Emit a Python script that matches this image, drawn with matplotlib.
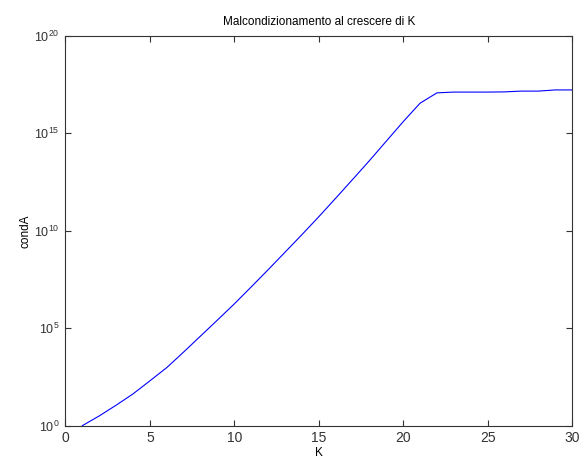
import numpy as np
import matplotlib.pyplot as plt
from matplotlib.ticker import FixedLocator, FuncFormatter, NullLocator

# valeurs (log10 du conditionnement)
K = np.arange(1, 31)
log_cond = [0.0, 0.5, 1.05, 1.63, 2.3, 2.98, 3.78, 4.6, 5.42, 6.25,
            7.12, 8.0, 8.9, 9.8, 10.72, 11.67, 12.63, 13.6, 14.6, 15.6,
            16.55, 17.08, 17.12, 17.12, 17.12, 17.13, 17.17, 17.17, 17.23, 17.23]
condA = 10.0 ** np.array(log_cond)

yticks = [1e0, 1e5, 1e10, 1e15, 1e20]
xticks = [0, 5, 10, 15, 20, 25, 30]

plt.rcParams['font.family'] = ['Liberation Sans', 'DejaVu Sans']
plt.rcParams['mathtext.default'] = 'regular'

fig = plt.figure(figsize=(5.79, 4.61), dpi=100)
ax = fig.add_axes([0.113, 0.0766, 0.875, 0.8454])
ax.plot(K, condA, color='#0000ff', linewidth=0.8)
ax.set_yscale('log')
ax.set_xlim(0, 30)
ax.set_ylim(1e0, 1e20)
ax.xaxis.set_major_locator(FixedLocator(xticks))
ax.yaxis.set_major_locator(FixedLocator(yticks))
ax.yaxis.set_minor_locator(NullLocator())
ax.yaxis.set_major_formatter(FuncFormatter(lambda v, p: '$10^{%d}$' % round(np.log10(v))))
ax.tick_params(direction='in', top=True, right=True, length=4, width=0.8,
               labelsize=9, colors='#333333', pad=4)
ax.tick_params(axis='x', labelsize=10)
for s in ax.spines.values():
    s.set_linewidth(0.8)
    s.set_color('#333333')
ax.set_title('Malcondizionamento al crescere di K', fontsize=8.5, pad=8)
ax.set_xlabel('K', fontsize=8.5, labelpad=1)
ax.set_ylabel('condA', fontsize=8.5, labelpad=2)
plt.savefig('out.png', dpi=100)
